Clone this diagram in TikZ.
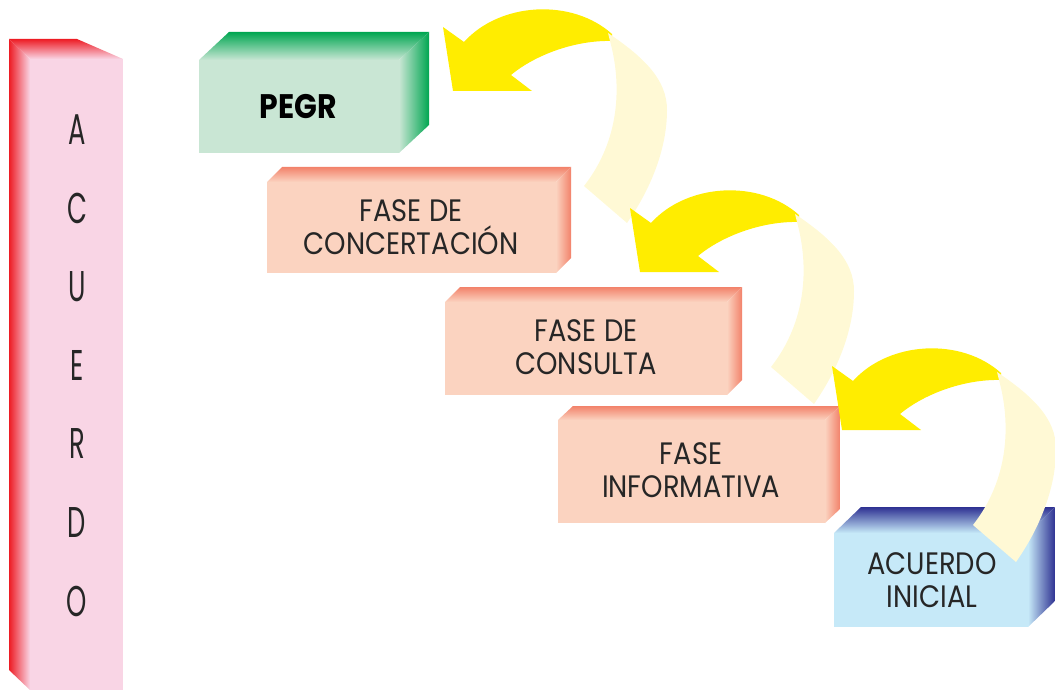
\documentclass[tikz,border=0pt]{standalone}
\usepackage{fontspec}
\setmainfont{Poppins}[FakeStretch=0.88]
\newfontfamily\letrasbarra{Poppins}[FakeStretch=0.6]
\definecolor{fasefrente}{HTML}{FBD3C0}
\definecolor{faseborde}{HTML}{F2826A}
\definecolor{verdefrente}{HTML}{C9E6D4}
\definecolor{verdeborde}{HTML}{00A651}
\definecolor{azulfrente}{HTML}{C6E9F8}
\definecolor{azulborde}{HTML}{2E3192}
\definecolor{rosafrente}{HTML}{F9D5E5}
\definecolor{rojoborde}{HTML}{ED1C24}
\definecolor{amarillo}{HTML}{FFED00}
\definecolor{palido}{HTML}{FFF9D5}
% caja: x0, y0, x1, y1 (cara frontal), fondo dx, dy, color frente, color borde
\newcommand{\caja}[8]{%
	\fill[#7] (#1,#2) rectangle (#3,#4);
	\shade[top color=#8,bottom color=#7] (#1,#2) -- ({#1+#5},{#2-#6}) -- ({#3+#5},{#2-#6}) -- (#3,#2) -- cycle;
	\shade[left color=#7,right color=#8] (#3,#2) -- ({#3+#5},{#2-#6}) -- ({#3+#5},{#4-#6}) -- (#3,#4) -- cycle;
}
\begin{document}
\begin{tikzpicture}[x=1pt,y=-1pt,
		fase/.style={inner sep=0pt,align=center,text=black!85,font=\fontsize{31}{33}\selectfont},
		letra/.style={inner sep=0pt,text=black!85,font=\letrasbarra\fontsize{43}{43}\selectfont}]
		\useasboundingbox (0,0) rectangle (1055,690);
		% barra ACUERDO
		\fill[rosafrente] (30,59) rectangle (123,690);
		\shade[left color=rojoborde,right color=rosafrente] (9,39) -- (30,59) -- (30,690) -- (9,670) -- cycle;
		\shade[top color=rojoborde,bottom color=rosafrente] (9,39) -- (77,39) -- (123,59) -- (30,59) -- cycle;
		\foreach \l [count=\i] in {A,C,U,E,R,D,O}
			\node[letra] (letra\i) at (77,{130+78.5*(\i-1)}) {\l};
		% cajas
		\caja{199}{60}{399}{153}{30}{28}{verdefrente}{verdeborde}
		\caja{267}{182}{556}{273}{15}{15}{fasefrente}{faseborde}
		\caja{445}{302}{727}{395}{15}{15}{fasefrente}{faseborde}
		\caja{558}{420}{825}{523}{15}{14}{fasefrente}{faseborde}
		\caja{834}{533}{1028}{627}{27}{26}{azulfrente}{azulborde}
		\node[fase,font=\bfseries\fontsize{34}{34}\selectfont,text=black] (pegr) at (298,107) {PEGR};
		\node[fase] (concertacion) at (411,227) {FASE DE\\CONCERTACIÓN};
		\node[fase] (consulta) at (586,347) {FASE DE\\CONSULTA};
		\node[fase] (informativa) at (691,470) {FASE\\INFORMATIVA};
		\node[fase] (inicial) at (932,580) {ACUERDO\\INICIAL};
		% flechas
		\foreach \dx/\dy in {0/0,187/181,389/339}{
			\begin{scope}[shift={(\dx,\dy)}]
				\fill[amarillo] (612,34) .. controls (572,-2) and (500,2) .. (464,42) -- (443,27) -- (453,91) -- (532,91) -- (511,75)
					.. controls (535,55) and (575,40) .. (612,41) -- cycle;
				\fill[palido] (584,186) -- (627,223) .. controls (650,190) and (667,150) .. (667,110)
					.. controls (667,80) and (645,58) .. (608,33) -- (610,41) .. controls (622,85) and (620,140) .. (584,186) -- cycle;
			\end{scope}
		}
	\end{tikzpicture}
\end{document}
